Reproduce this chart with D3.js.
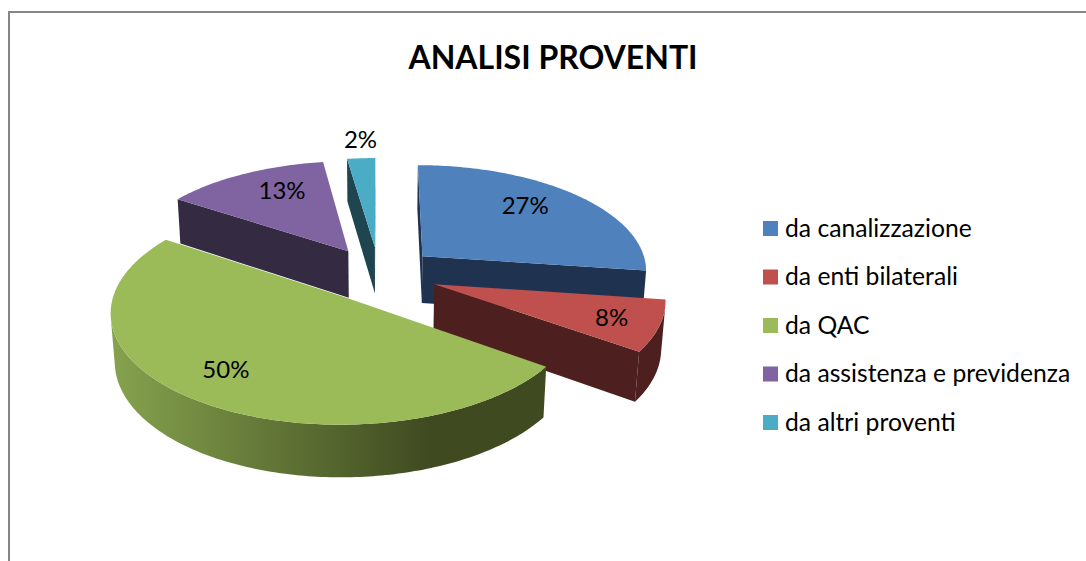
<!DOCTYPE html>
<html>
<head>
<meta charset="utf-8">
<script src="https://cdn.jsdelivr.net/npm/d3@7"></script>
<style>
  html, body { margin: 0; padding: 0; background: #fff; }
  svg { display: block; }
  text { font-family: Lato, "Open Sans", sans-serif; fill: #000; }
</style>
</head>
<body>
<div id="chart"></div>
<script>
const categories = ["da canalizzazione", "da enti bilaterali", "da QAC", "da assistenza e previdenza", "da altri proventi"];
const shares = [27.2, 7.6, 49.5, 13.4, 2.3];
const labels = ["27%", "8%", "50%", "13%", "2%"];

const topColors = ["#4f81bd", "#c0504d", "#9bbb59", "#8064a2", "#4bacc6"];
const wallColors = ["#1f3350", "#4d1f1e", "url(#greenWall)", "#342a41", "#1e4550"];

const width = 1086, height = 561;

// fake 3d: the pie lies on a tilted plane, y is depth, z goes down the wall
const cx = 379, cy = 274, rx = 226, ry = 106, depth = 48;
const persp = 0.12, perspZ = 0.015, explode = 0.26;

const svg = d3.select("#chart").append("svg")
    .attr("width", width)
    .attr("height", height);

const defs = svg.append("defs");
const grad = defs.append("linearGradient")
    .attr("id", "greenWall")
    .attr("gradientUnits", "userSpaceOnUse")
    .attr("x1", 110).attr("x2", 430).attr("y1", 0).attr("y2", 0);
grad.append("stop").attr("offset", "0%").attr("stop-color", "#86a34e");
grad.append("stop").attr("offset", "100%").attr("stop-color", "#3f4a20");

// outer frame, only top and left show in the crop
svg.append("path")
    .attr("d", d3.line()([[9, height], [9, 12], [width, 12]]))
    .attr("fill", "none")
    .attr("stroke", "#868686")
    .attr("stroke-width", 2);

svg.append("text")
    .attr("x", 553)
    .attr("y", 69)
    .attr("text-anchor", "middle")
    .attr("font-size", 32)
    .attr("font-weight", 700)
    .text("ANALISI PROVENTI");

function project(p, z) {
    const s = 1 / (1 + persp * p[1] + perspZ * z);
    return [cx + rx * p[0] * s, cy - ry * p[1] * s + depth * z * s];
}

function polar(a, r, mid) {
    return [explode * Math.sin(mid) + r * Math.sin(a), explode * Math.cos(mid) + r * Math.cos(a)];
}

function area2(a, b) {
    const q = [project(a, 0), project(b, 0), project(b, 1), project(a, 1)];
    return d3.polygonArea(q);
}

const pie = d3.pie().sort(null).value(d => d);
const arcs = pie(shares);
const line = d3.line().curve(d3.curveLinear);

// painter's order, far slices first
const order = [4, 3, 0, 1, 2];

order.forEach(i => {
    const d = arcs[i];
    const mid = (d.startAngle + d.endAngle) / 2;
    const n = Math.max(6, Math.round((d.endAngle - d.startAngle) * 60));
    const rim = d3.range(n + 1).map(k => polar(d.startAngle + (d.endAngle - d.startAngle) * k / n, 1, mid));
    const apex = polar(0, 0, mid);
    const g = svg.append("g");

    // radial walls, keep only those facing the viewer (polygonArea > 0 here)
    [[apex, rim[0]], [rim[n], apex]].forEach(e => {
        if (area2(e[0], e[1]) > 0) {
            g.append("path")
                .attr("d", line([project(e[0], 0), project(e[1], 0), project(e[1], 1), project(e[0], 1)]) + "Z")
                .attr("fill", i === 2 ? "#3f4a20" : wallColors[i]);
        }
    });

    // rim wall
    const front = [];
    for (let k = 0; k < n; k++) {
        if (area2(rim[k], rim[k + 1]) > 0) {
            if (!front.length) front.push(rim[k]);
            front.push(rim[k + 1]);
        }
    }
    if (front.length) {
        const pts = front.map(p => project(p, 0)).concat(front.slice().reverse().map(p => project(p, 1)));
        g.append("path").attr("d", line(pts) + "Z").attr("fill", wallColors[i]);
    }

    // top face
    g.append("path")
        .attr("d", line([apex].concat(rim).map(p => project(p, 0))) + "Z")
        .attr("fill", topColors[i]);
});

// label spots, radius and nudge per slice
const labelRadius = [0.68, 0.8, 0.8, 0.75, 1.22];
const labelNudge = [[-3, -7], [-1, 0], [-2, -8], [14, -1], [2, -1]];

arcs.forEach((d, i) => {
    const mid = (d.startAngle + d.endAngle) / 2;
    const p = project(polar(mid, labelRadius[i], mid), 0);
    svg.append("text")
        .attr("x", p[0] + labelNudge[i][0])
        .attr("y", p[1] + labelNudge[i][1])
        .attr("dy", "0.35em")
        .attr("text-anchor", "middle")
        .attr("font-size", 24)
        .text(labels[i]);
});

// legend
const legendY = d3.scalePoint().domain(categories).range([228.5, 422.5]);

const legend = svg.selectAll(".legend")
    .data(categories)
    .enter().append("g")
    .attr("class", "legend")
    .attr("transform", d => `translate(763,${legendY(d)})`);

legend.append("rect")
    .attr("y", -7.5)
    .attr("width", 15)
    .attr("height", 15)
    .attr("fill", (d, i) => topColors[i]);

legend.append("text")
    .attr("x", 22)
    .attr("y", 8)
    .attr("font-size", 24.7)
    .text(d => d);
</script>
</body>
</html>
